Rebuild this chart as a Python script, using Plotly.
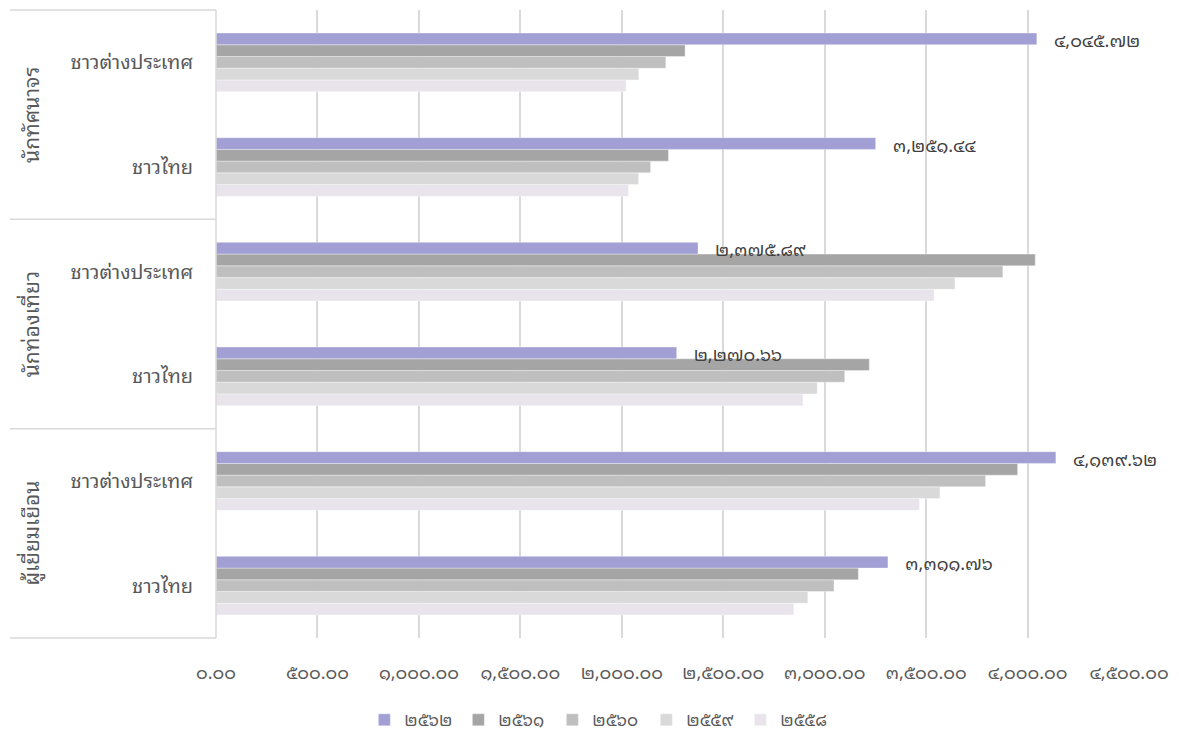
import plotly.graph_objects as go

groups = ["นักทัศนาจร", "นักท่องเที่ยว", "ผู้เยี่ยมเยือน"]
subs = ["ชาวต่างประเทศ", "ชาวไทย"]
years = ["๒๕๖๒", "๒๕๖๑", "๒๕๖๐", "๒๕๕๙", "๒๕๕๘"]

# order of rows (top to bottom): group x sub
v2562 = [4045.72, 3251.44, 2375.89, 2270.66, 4139.62, 3311.76]
v2561 = [2312, 2230, 4038, 3220, 3951, 3166]
v2560 = [2217, 2142, 3878, 3099, 3793, 3046]
v2559 = [2084, 2083, 3642, 2963, 3568, 2917]
v2558 = [2021, 2033, 3539, 2893, 3467, 2848]

tick_values = [0, 500, 1000, 1500, 2000, 2500, 3000, 3500, 4000, 4500]

colors = ["#a29fd4", "#a5a5a5", "#bfbfbf", "#d9d9d9", "#e9e4ec"]

TH = str.maketrans("0123456789", "๐๑๒๓๔๕๖๗๘๙")


def th(v):
    return "{:,.2f}".format(v).translate(TH)


rows = [g + "|" + s for g in groups for s in subs]
row_labels = [s for g in groups for s in subs]
series = [v2562, v2561, v2560, v2559, v2558]

FONT = "Tahoma, Noto Sans Thai Looped, Noto Sans Thai, Noto Sans, DejaVu Sans, sans-serif"

fig = go.Figure()
# add oldest first so that 2562 sits on top of each group and is drawn last
for i in reversed(range(len(years))):
    name, vals = years[i], series[i]
    kw = {}
    if i == 0:
        kw = dict(
            text=["\u00a0\u00a0\u00a0" + th(v) for v in vals],
            textposition="outside",
            textfont=dict(size=18, color="#404040", family=FONT),
            constraintext="none",
            cliponaxis=False,
        )
    fig.add_trace(go.Bar(
        x=vals, y=rows, orientation="h", name=name,
        marker=dict(color=colors[i], line=dict(width=0.6, color="rgba(255,255,255,0.6)")),
        hoverinfo="x+name",
        **kw,
    ))

shapes = []
for yy in [1, 2 / 3, 1 / 3, 0]:
    shapes.append(dict(type="line", xref="paper", yref="paper", x0=-0.2256, x1=0,
                       y0=yy, y1=yy, line=dict(color="#d9d9d9", width=1.5)))
shapes.append(dict(type="line", xref="paper", yref="paper", x0=0, x1=0,
                   y0=0, y1=1, line=dict(color="#d9d9d9", width=1.5)))

annotations = []
for k, g in enumerate(groups):
    annotations.append(dict(
        text=g, xref="paper", yref="paper", x=-0.2045, y=1 - (2 * k + 1) / 6,
        textangle=-90, showarrow=False, xanchor="center", yanchor="middle",
        font=dict(size=21, color="#595959", family=FONT),
    ))

fig.update_layout(
    width=1171, height=736,
    margin=dict(l=208, r=50, t=2, b=106, autoexpand=False),
    paper_bgcolor="white", plot_bgcolor="white",
    barmode="group", bargap=0.44, bargroupgap=0,
    font=dict(family=FONT, color="#595959"),
    shapes=shapes, annotations=annotations,
    showlegend=True,
    legend=dict(orientation="h", xref="container", yref="paper",
                x=0.505, y=-0.131, xanchor="center", yanchor="middle",
                traceorder="reversed",
                font=dict(size=17, color="#595959", family=FONT),
                itemwidth=30, entrywidth=49),
    xaxis=dict(range=[0, 4500], tickvals=tick_values,
               ticktext=[th(v) for v in tick_values],
               showgrid=True, gridcolor="#d9d9d9", gridwidth=1.5,
               zeroline=False, showline=False, automargin=False,
               tickfont=dict(size=18, color="#595959", family=FONT),
               ticklabelstandoff=22, fixedrange=True),
    yaxis=dict(type="category", categoryorder="array",
               categoryarray=rows[::-1],
               tickvals=rows, ticktext=row_labels,
               tickfont=dict(size=20, color="#595959", family=FONT),
               ticklabelstandoff=22, showgrid=False, zeroline=False,
               showline=False, fixedrange=True, automargin=False),
)

fig.write_html("out.html")
